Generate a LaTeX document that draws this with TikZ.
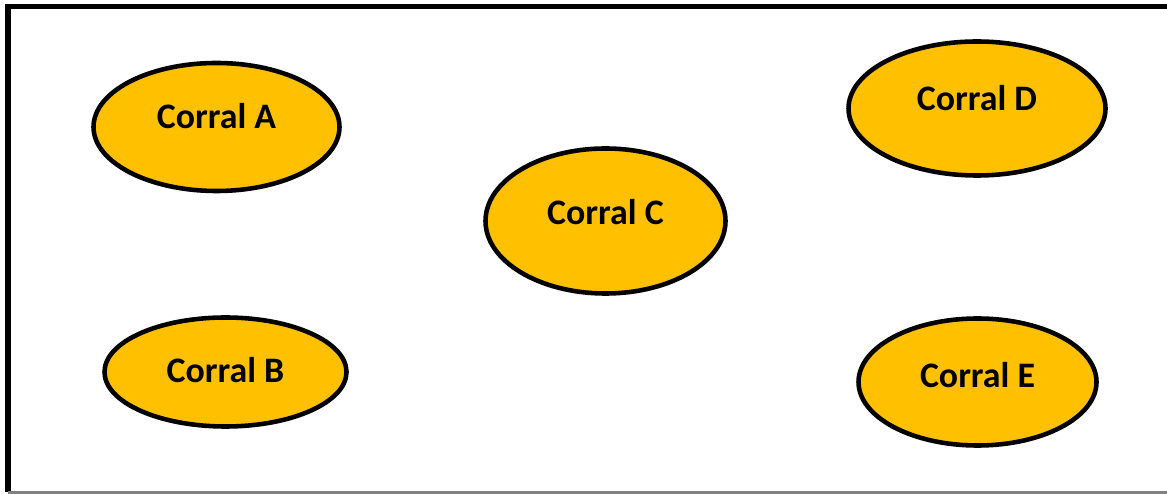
\documentclass[tikz,border=0pt]{standalone}
\usepackage{fontspec}
\setmainfont{Carlito}
\usetikzlibrary{shapes.geometric}
\definecolor{corralgold}{HTML}{FFC000}
\tikzstyle{corral} = [ draw, ellipse, fill = corralgold, line width = 1.3pt, inner sep = 0pt ]
\tikzstyle{lbl} = [ font = \fontsize{10.2}{12}\selectfont\bfseries ]

\begin{document}
\begin{tikzpicture}
	\useasboundingbox ( 0, 0 ) rectangle ( 11.67, 4.94 );
	\draw[line width=1.5pt] ( 11.7, 4.875 ) -- ( 0.08, 4.875 ) -- ( 0.08, 0.02 );
	\draw[gray, line width=0.8pt] ( 0.08, 0.015 ) -- ( 11.7, 0.015 );

	\node[corral, minimum width=2.46cm, minimum height=1.28cm, label={[lbl, yshift=0.11cm]center:Corral A}] (ca) at ( 2.165, 3.67 ) {};
	\node[corral, minimum width=2.42cm, minimum height=1.09cm, label={[lbl, yshift=0.02cm]center:Corral B}] (cb) at ( 2.255, 1.22 ) {};
	\node[corral, minimum width=2.40cm, minimum height=1.45cm, label={[lbl, yshift=0.085cm]center:Corral C}] (cc) at ( 6.055, 2.73 ) {};
	\node[corral, minimum width=2.57cm, minimum height=1.34cm, label={[lbl, yshift=0.10cm]center:Corral D}] (cd) at ( 9.77, 3.855 ) {};
	\node[corral, minimum width=2.38cm, minimum height=1.27cm, label={[lbl, yshift=0.065cm]center:Corral E}] (ce) at ( 9.775, 1.12 ) {};
\end{tikzpicture}
\end{document}
